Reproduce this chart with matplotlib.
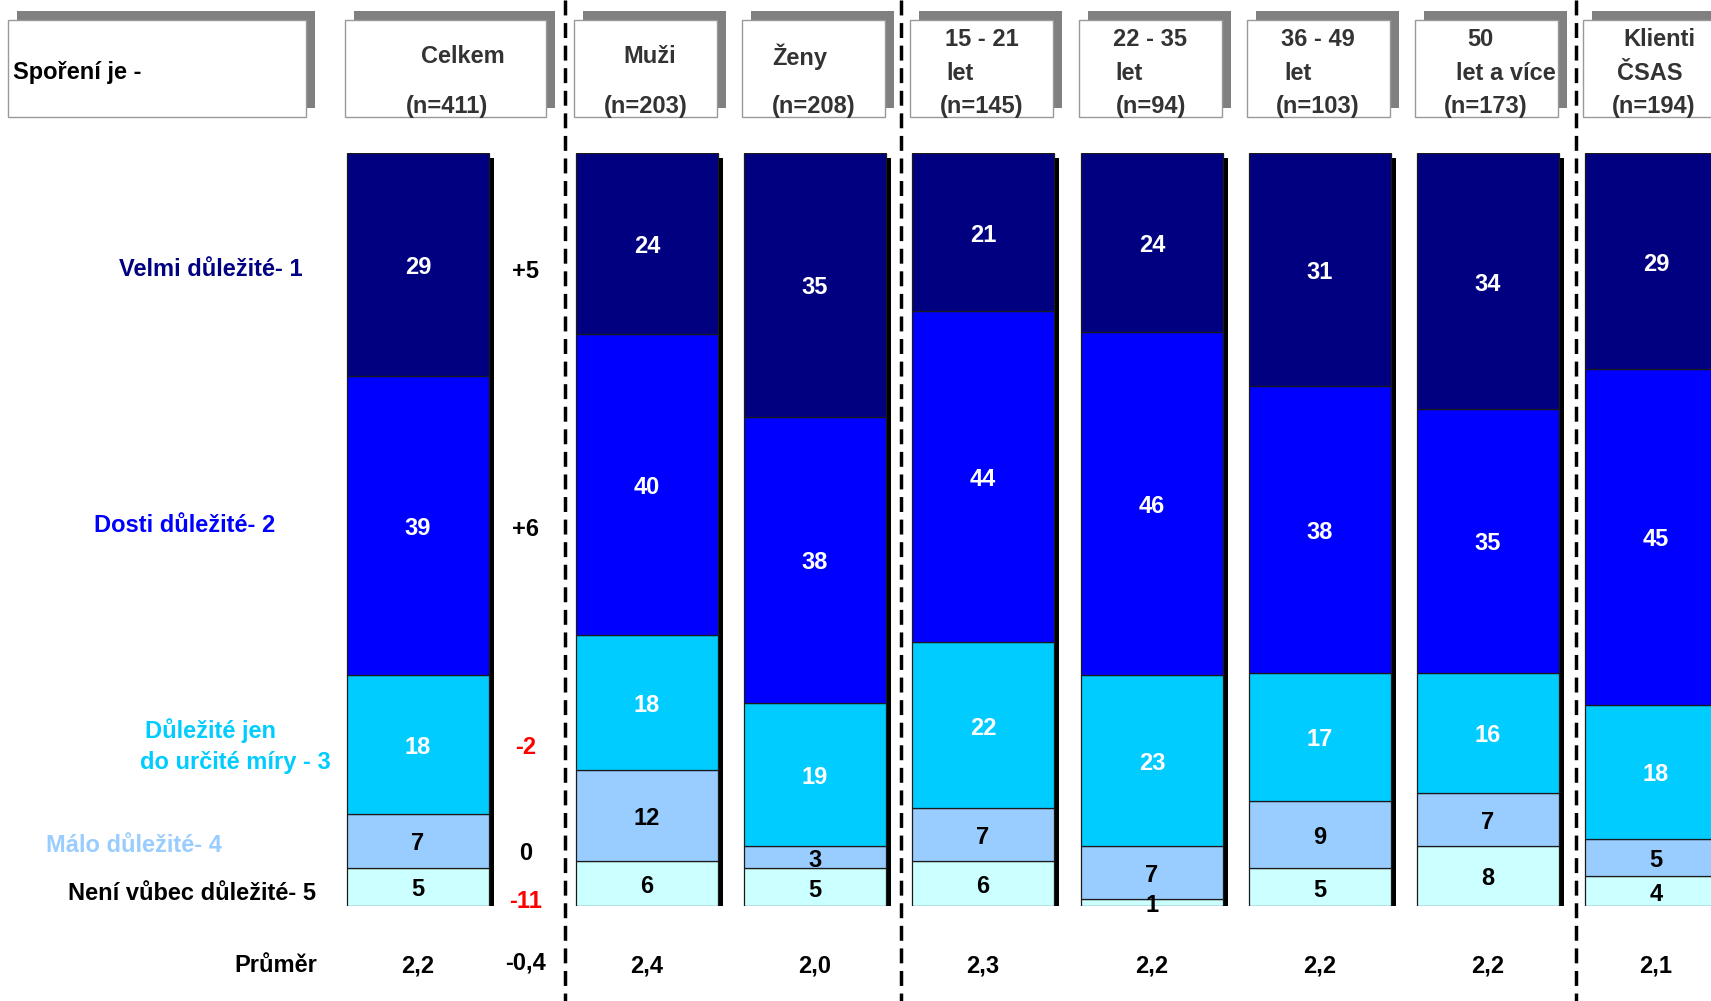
import matplotlib
matplotlib.use('Agg')
import matplotlib.pyplot as plt
from matplotlib.patches import Rectangle
from matplotlib.transforms import offset_copy

plt.rcParams['font.family'] = ['Liberation Sans', 'DejaVu Sans']
plt.rcParams['font.weight'] = 'bold'

# --- data ---
groups = ['Celkem', 'Muži', 'Ženy', '15 - 21 let', '22 - 35 let', '36 - 49 let', '50 let a více', 'Klienti ČSAS']
n_values = [411, 203, 208, 145, 94, 103, 173, 194]
velmi = [29, 24, 35, 21, 24, 31, 34, 29]
dosti = [39, 40, 38, 44, 46, 38, 35, 45]
jen = [18, 18, 19, 22, 23, 17, 16, 18]
malo = [7, 12, 3, 7, 7, 9, 7, 5]
neni = [5, 6, 5, 6, 1, 5, 8, 4]
prumer = ['2,2', '2,4', '2,0', '2,3', '2,2', '2,2', '2,2', '2,1']
diff_labels = ['+5', '+6', '-2', '0', '-11']
diff_mean = '-0,4'
category_labels = ['Velmi důležité- 1', 'Dosti důležité- 2', ['Důležité jen', 'do určité míry - 3'],
                   'Málo důležité- 4', 'Není vůbec důležité- 5']
header_lines = [['Celkem', '(n=411)'], ['Muži', '(n=203)'], ['Ženy', '(n=208)'],
                ['15 - 21', 'let', '(n=145)'], ['22 - 35', 'let', '(n=94)'],
                ['36 - 49', 'let', '(n=103)'], ['50', 'let a více', '(n=173)'],
                ['Klienti', 'ČSAS', '(n=194)']]

colors = ['#000080', '#0000FF', '#00CCFF', '#99CCFF', '#CCFFFF']
text_colors = ['white', 'white', 'white', 'black', 'black']
label_colors = ['#000080', '#0000FF', '#00CCFF', '#99CCFF', 'black']
diff_colors = ['black', 'black', '#FF0000', 'black', '#FF0000']

# --- layout (pixels) ---
W, H = 1711, 1001
centers = [418, 647, 815, 983, 1152, 1320, 1488, 1656]
bar_w = 142
bar_top, bar_bot = 153, 906
diff_x = 526
DY = 3  # text nudge down
row_y = [268, 526, 745, 850, 899]
fs = 17

fig = plt.figure(figsize=(W / 100, H / 100), dpi=100)
ov = fig.add_axes([0, 0, 1, 1])
ov.set_xlim(0, W)
ov.set_ylim(H, 0)
ov.axis('off')

bx = fig.add_axes([0, (H - bar_bot) / H, 1, (bar_bot - bar_top) / H])
bx.set_xlim(0, W)
bx.set_ylim(0, 100)
bx.axis('off')
bx.set_zorder(2)

series = [velmi, dosti, jen, malo, neni]
totals = [sum(s[i] for s in series) for i in range(len(groups))]

# shadows behind bars
shadow_tr = offset_copy(bx.transData, fig=fig, x=5, y=-5, units='dots')
bx.bar(centers, [100] * len(groups), width=bar_w, color='black', transform=shadow_tr, zorder=1)
label_tr = offset_copy(bx.transData, fig=fig, x=0, y=-DY, units='dots')

# stacked segments, from the bottom (5) to the top (1)
bottom = [0.0] * len(groups)
for k in range(4, -1, -1):
    pct = [series[k][i] / totals[i] * 100 for i in range(len(groups))]
    bx.bar(centers, pct, width=bar_w, bottom=bottom, color=colors[k],
           edgecolor='#1a1a1a', linewidth=0.9, zorder=2)
    for i, c in enumerate(centers):
        bx.text(c, bottom[i] + pct[i] / 2, str(series[k][i]), ha='center', va='center',
                color=text_colors[k], fontsize=fs, zorder=3, transform=label_tr)
    bottom = [bottom[i] + pct[i] for i in range(len(groups))]

# left category labels
ov.text(303, 266 + DY, category_labels[0], ha='right', va='center', color=label_colors[0], fontsize=fs)
ov.text(275, 522 + DY, category_labels[1], ha='right', va='center', color=label_colors[1], fontsize=fs)
ov.text(145, 728 + DY, category_labels[2][0], ha='left', va='center', color=label_colors[2], fontsize=fs)
ov.text(140, 760 + DY, category_labels[2][1], ha='left', va='center', color=label_colors[2], fontsize=fs)
ov.text(46, 842 + DY, category_labels[3], ha='left', va='center', color=label_colors[3], fontsize=fs)
ov.text(316, 891 + DY, category_labels[4], ha='right', va='center', color=label_colors[4], fontsize=fs)

# difference column
for lab, y, col in zip(diff_labels, row_y, diff_colors):
    ov.text(diff_x, y + DY, lab, ha='center', va='center', color=col, fontsize=fs)
ov.text(diff_x, 960 + DY, diff_mean, ha='center', va='center', color='black', fontsize=fs)

# mean row
ov.text(276, 963 + DY, 'Průměr', ha='center', va='center', color='black', fontsize=fs)
for c, p in zip(centers, prumer):
    ov.text(c, 963 + DY, p, ha='center', va='center', color='black', fontsize=fs)

# header boxes
def header_box(x0, x1, y0=19.6, y1=117):
    ov.add_patch(Rectangle((x0 + 9, y0 - 9), x1 - x0, y1 - y0, facecolor='#808080', edgecolor='none', zorder=1))
    ov.add_patch(Rectangle((x0, y0), x1 - x0, y1 - y0, facecolor='white', edgecolor='#999999', lw=1, zorder=2))

header_box(8, 306)
ov.text(13, 69 + DY, 'Spoření je -', ha='left', va='center', color='black', fontsize=fs, zorder=3)

header_box(345, 546)
for c in centers[1:]:
    header_box(c - 73, c + 70)

line_offsets = [[45, 29], [3, -1], [-15, -1], [-1, -23, -1], [-2, -23, -1],
                [-2, -22, -2], [-8, 18, -2], [3, -6, -2]]
for c, lines, offs in zip(centers, header_lines, line_offsets):
    ys = [53.5, 104] if len(lines) == 2 else [37, 70, 104]
    for txt, dx, y in zip(lines, offs, ys):
        ov.text(c + dx, y + DY, txt, ha='center', va='center', color='#333333', fontsize=fs, zorder=3)

# dashed separators
for x in [565, 901, 1576]:
    ov.plot([x, x], [0, H], color='black', lw=2.5, ls=(0, (4.3, 2.2)), zorder=4)

fig.savefig('out.png', dpi=100)
